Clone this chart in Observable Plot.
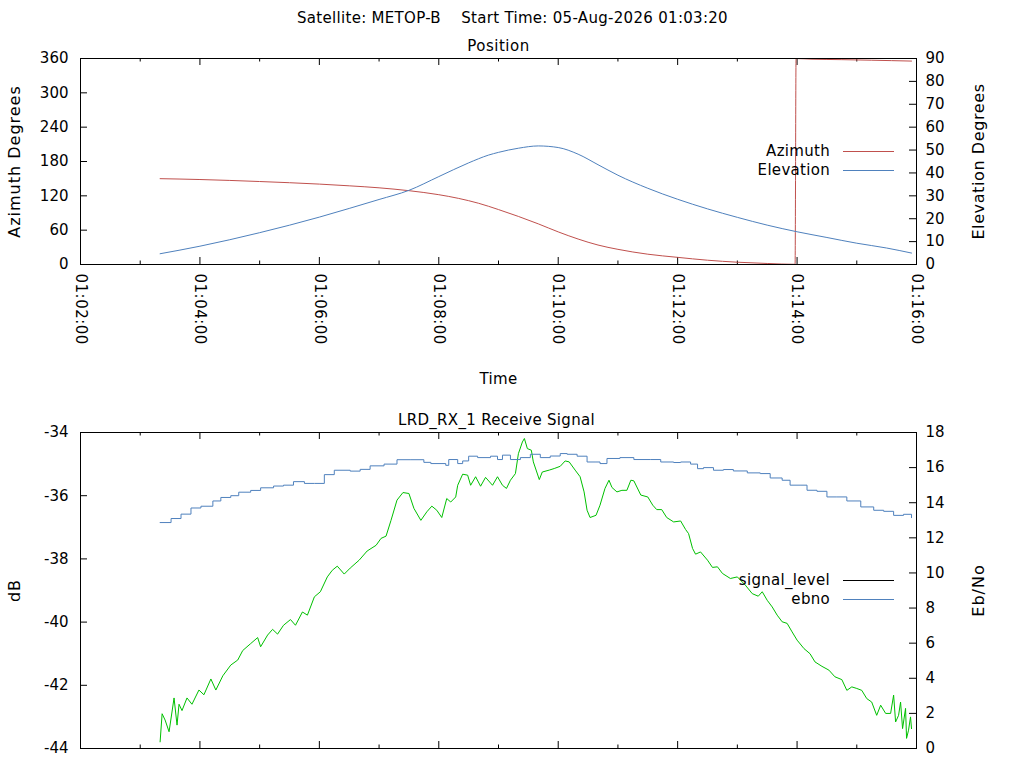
<!DOCTYPE html>
<html>
<head>
<meta charset="utf-8">
<script src="https://cdn.jsdelivr.net/npm/d3@7"></script>
<script src="https://cdn.jsdelivr.net/npm/@observablehq/plot@0.6"></script>
<style>
  html, body { margin: 0; padding: 0; background: #fff; overflow: hidden; }
  #chart { position: relative; width: 1024px; height: 768px; font-family: "DejaVu Sans", sans-serif; }
  #chart svg { position: absolute; left: 0; }
  .lg-text { position: absolute; font-size: 15px; line-height: 18px; color: #000; text-align: right; white-space: nowrap; letter-spacing: 0.3px; }
  .lg-line { position: absolute; height: 0; }
</style>
</head>
<body>
<div id="chart"></div>
<script>
// ---------- text ----------
const mainTitle = "Satellite: METOP-B    Start Time: 05-Aug-2026 01:03:20";
const topTitle = "Position";
const bottomTitle = "LRD_RX_1 Receive Signal";
const passStartClock = "01:03:20";      // data offsets are seconds after this
const xAxisStart = "01:02:00", xAxisEnd = "01:16:00";
const timeTicks = ["01:02:00","01:04:00","01:06:00","01:08:00","01:10:00","01:12:00","01:14:00","01:16:00"];
const minorTimeTicks = ["01:03:00","01:05:00","01:07:00","01:09:00","01:11:00","01:13:00","01:15:00"];

// ---------- top panel ----------
const azTicks = [0, 60, 120, 180, 240, 300, 360];
const elTicks = [0, 10, 20, 30, 40, 50, 60, 70, 80, 90];
// [seconds after pass start, degrees]
const azimuth = [[0,150],[40,148.5],[100,145],[160,140.5],[190,137.5],[220,134],[250,129],[280,122],
  [300,115.5],[320,107],[340,96],[360,84],[380,71],[400,57],[420,44.5],[440,34],[460,26.5],[490,18],
  [520,12.5],[550,7.5],[580,4],[610,1.8],[638,0.3],[639,359.9],[655,358.8],[685,358],[715,357],[755,355.5]];
const elevation = [[0,4.7],[40,8.0],[100,13.9],[160,20.7],[190,24.5],[220,28.4],[250,32.4],[280,38.4],
  [310,44.4],[330,47.8],[340,49.0],[360,50.8],[380,51.8],[400,51.1],[420,48.2],[440,43.6],[460,39.0],
  [490,33.3],[520,28.5],[550,24.3],[580,20.6],[610,17.2],[640,14.3],[670,11.8],[700,9.3],[730,7.2],[755,5.0]];

// ---------- bottom panel ----------
const dbTicks = [-44, -42, -40, -38, -36, -34];
const ebnoTicks = [0, 2, 4, 6, 8, 10, 12, 14, 16, 18];
const signalLevel = [[0,-43.79],[2,-42.9],[5,-43.1],[9,-43.47],[14,-42.4],[17,-43.26],[19,-42.6],[22,-42.8],
  [27,-42.4],[32,-42.6],[39,-42.15],[44,-42.3],[51,-41.8],[56,-42.15],[63,-41.7],[71,-41.36],[78,-41.2],
  [83,-40.9],[91,-40.68],[98,-40.49],[101,-40.78],[108,-40.41],[113,-40.23],[118,-40.38],[124,-40.1],
  [131,-39.92],[136,-40.1],[143,-39.68],[148,-39.78],[155,-39.2],[161,-39.04],[168,-38.57],[173,-38.36],
  [178,-38.23],[185,-38.48],[191,-38.29],[200,-38.04],[208,-37.75],[217,-37.57],[222,-37.35],[227,-37.28],
  [232,-36.78],[238,-36.14],[244,-35.9],[250,-35.93],[255,-36.4],[262,-36.78],[268,-36.51],[273,-36.33],
  [278,-36.46],[283,-36.69],[288,-36.09],[292,-36.2],[297,-36.04],[299,-35.67],[304,-35.32],[309,-35.35],
  [312,-35.67],[317,-35.4],[322,-35.7],[327,-35.42],[334,-35.67],[339,-35.4],[344,-35.67],[348,-35.77],
  [352,-35.51],[357,-35.3],[360,-34.67],[364,-34.3],[366,-34.19],[369,-34.51],[373,-34.56],[375,-34.93],
  [381,-35.49],[384,-35.25],[391,-35.19],[396,-35.14],[402,-35.07],[407,-34.9],[411,-34.93],[417,-35.19],
  [422,-35.4],[426,-35.88],[429,-36.46],[432,-36.69],[438,-36.62],[442,-36.3],[447,-35.77],[451,-35.51],
  [454,-35.74],[459,-35.88],[464,-35.83],[469,-35.83],[473,-35.51],[476,-35.53],[483,-35.98],[490,-36.04],
  [495,-36.3],[499,-36.44],[504,-36.44],[509,-36.69],[516,-36.83],[523,-36.8],[528,-37.07],[531,-37.2],
  [535,-37.67],[538,-37.85],[543,-37.78],[550,-38.04],[555,-38.27],[560,-38.25],[565,-38.46],[573,-38.62],
  [580,-38.57],[588,-38.83],[595,-39.1],[601,-39.18],[605,-39.04],[610,-39.31],[615,-39.52],[620,-39.78],
  [625,-39.99],[630,-40.04],[635,-40.31],[640,-40.57],[647,-40.84],[653,-41.0],[658,-41.26],[665,-41.4],
  [672,-41.52],[678,-41.73],[685,-41.82],[690,-42.16],[695,-42.05],[700,-42.1],[705,-42.16],[710,-42.42],
  [715,-42.53],[720,-42.95],[724,-42.63],[729,-42.89],[734,-42.89],[737,-42.31],[739,-43.16],[742,-42.95],
  [744,-42.53],[746,-43.37],[749,-42.73],[750,-43.68],[752,-43.42],[754,-43.0],[755,-43.37]];
const ebno = [[0,12.87],[11,13.1],[21,13.35],[31,13.7],[41,13.8],[53,14.1],[61,14.3],[71,14.4],[79,14.6],
  [91,14.7],[101,14.85],[114,14.95],[124,15.0],[134,15.2],[145,15.1],[155,15.1],[165,15.6],[175,15.85],
  [191,15.8],[201,15.9],[211,16.1],[225,16.2],[238,16.45],[252,16.45],[265,16.3],[272,16.23],[287,16.13],
  [290,16.46],[299,16.23],[304,16.38],[310,16.65],[319,16.57],[332,16.65],[339,16.46],[344,16.71],
  [352,16.46],[362,16.57],[372,16.76],[382,16.57],[392,16.66],[402,16.8],[409,16.76],[419,16.65],
  [429,16.32],[437,16.32],[442,16.23],[449,16.52],[462,16.57],[476,16.46],[493,16.46],[503,16.32],
  [516,16.29],[523,16.32],[533,16.2],[540,15.94],[546,16.0],[556,15.85],[566,15.89],[576,15.81],
  [590,15.7],[603,15.66],[613,15.41],[625,15.28],[633,15.0],[643,15.0],[650,14.71],[660,14.65],
  [670,14.33],[680,14.33],[690,14.1],[704,13.76],[717,13.57],[727,13.51],[737,13.28],[747,13.34],[755,13.15]];

const colors = { azimuth: "#c0504d", elevation: "#4f81bd", signal: "#00c000", signalKey: "#000000", ebno: "#4f81bd" };

// ---------- build ----------
const parseT = d3.utcParse("%H:%M:%S");
const t0 = parseT(passStartClock);
const at = s => new Date(+t0 + s * 1000);
const xDomain = [parseT(xAxisStart), parseT(xAxisEnd)];
const majorX = timeTicks.map(parseT);
const minorX = minorTimeTicks.map(parseT);
const rows = arr => arr.map(([s, v]) => ({t: at(s), v}));

const W = 1024, ML = 80, MR = 108, FW = W - ML - MR;
const TICK = 7, MINOR = 3.5;
const style = {fontFamily: "DejaVu Sans, sans-serif", fontSize: "15px", background: "white", color: "#000", overflow: "visible"};
const plain = d => String(d);
const label = (txt, opts) => Plot.text([txt], {text: d => d, textAnchor: "middle", lineAnchor: "middle", ...opts});

function frameTicks(fh, yLeft, yRight) {
  return [
    Plot.tickX(majorX, {x: d => d, insetTop: fh - TICK, stroke: "#000"}),
    Plot.tickX(majorX, {x: d => d, insetBottom: fh - TICK, stroke: "#000"}),
    Plot.tickX(minorX, {x: d => d, insetTop: fh - MINOR, stroke: "#000"}),
    Plot.tickX(minorX, {x: d => d, insetBottom: fh - MINOR, stroke: "#000"}),
    Plot.tickY(yLeft, {y: d => d, insetRight: FW - TICK, stroke: "#000"}),
    Plot.tickY(yRight, {y: d => d, insetLeft: FW - TICK, stroke: "#000"})
  ];
}

// top panel
const azDomain = [0, 360], elDomain = [0, 90];
const elToAz = v => azDomain[0] + (v - elDomain[0]) * (azDomain[1] - azDomain[0]) / (elDomain[1] - elDomain[0]);
const azToEl = v => String(Math.round(elDomain[0] + (v - azDomain[0]) * (elDomain[1] - elDomain[0]) / (azDomain[1] - azDomain[0])));
const topH = 400, topMT = 58, topMB = 136, topFH = topH - topMT - topMB;

const topPlot = Plot.plot({
  width: W, height: topH, marginTop: topMT, marginBottom: topMB, marginLeft: ML, marginRight: MR,
  style,
  x: {type: "utc", domain: xDomain},
  y: {domain: azDomain},
  marks: [
    Plot.axisX(majorX, {anchor: "bottom", tickSize: 0, tickPadding: 9, tickRotate: 90,
      tickFormat: d3.utcFormat("%H:%M:%S"), label: null}),
    Plot.axisY(azTicks, {anchor: "left", tickSize: 0, tickPadding: 12, tickFormat: plain, label: null}),
    Plot.axisY(elTicks.map(elToAz), {anchor: "right", tickSize: 0, tickPadding: 9, tickFormat: azToEl, label: null}),
    ...frameTicks(topFH, azTicks, elTicks.map(elToAz)),
    Plot.line(rows(azimuth), {x: "t", y: "v", stroke: colors.azimuth, strokeWidth: 1, curve: "monotone-x"}),
    Plot.line(rows(elevation), {x: "t", y: d => elToAz(d.v), stroke: colors.elevation, strokeWidth: 1, curve: "monotone-x"}),
    Plot.frame({stroke: "#000"}),
    label(mainTitle, {frameAnchor: "top", dx: 14, dy: -40, fontSize: 15}),
    label(topTitle, {frameAnchor: "top", dy: -12, fontSize: 15}),
    label("Azimuth Degrees", {frameAnchor: "left", rotate: -90, dx: -66, fontSize: 16}),
    label("Elevation Degrees", {frameAnchor: "right", rotate: -90, dx: 62, fontSize: 16}),
    label("Time", {frameAnchor: "bottom", dy: 115, fontSize: 15})
  ]
});
topPlot.style.top = "0px";

// bottom panel (its time labels fall below the page edge, as in the reference)
const dbDomain = [-44, -34], ebDomain = [0, 18];
const ebToDb = v => dbDomain[0] + (v - ebDomain[0]) * (dbDomain[1] - dbDomain[0]) / (ebDomain[1] - ebDomain[0]);
const dbToEb = v => String(Math.round(ebDomain[0] + (v - dbDomain[0]) * (ebDomain[1] - ebDomain[0]) / (dbDomain[1] - dbDomain[0])));
const botTop = 400, botH = 368, botMT = 32, botMB = 20, botFH = botH - botMT - botMB;

const botPlot = Plot.plot({
  width: W, height: botH, marginTop: botMT, marginBottom: botMB, marginLeft: ML, marginRight: MR,
  style,
  x: {type: "utc", domain: xDomain, axis: null},
  y: {domain: dbDomain},
  marks: [
    Plot.axisY(dbTicks, {anchor: "left", tickSize: 0, tickPadding: 12, tickFormat: plain, label: null}),
    Plot.axisY(ebnoTicks.map(ebToDb), {anchor: "right", tickSize: 0, tickPadding: 9, tickFormat: dbToEb, label: null}),
    ...frameTicks(botFH, dbTicks, ebnoTicks.map(ebToDb)),
    Plot.line(rows(signalLevel), {x: "t", y: "v", stroke: colors.signal, strokeWidth: 1}),
    Plot.line(rows(ebno), {x: "t", y: d => ebToDb(d.v), stroke: colors.ebno, strokeWidth: 1, curve: "step-after"}),
    Plot.frame({stroke: "#000"}),
    label(bottomTitle, {frameAnchor: "top", dx: -2, dy: -12, fontSize: 15}),
    label("dB", {frameAnchor: "left", rotate: -90, dx: -66, fontSize: 16}),
    label("Eb/No", {frameAnchor: "right", rotate: -90, dx: 62, fontSize: 16})
  ]
});
botPlot.style.top = botTop + "px";

const chart = document.getElementById("chart");
chart.appendChild(topPlot);
chart.appendChild(botPlot);

// letter spacing tweaks to match the reference's wider text
const spaced = {"Azimuth Degrees": "1.0px", "Elevation Degrees": "0.6px", "dB": "1px", "Eb/No": "1px",
  [mainTitle]: "0.3px", [topTitle]: "0.5px", [bottomTitle]: "0.3px", "Time": "0.3px"};
d3.selectAll("#chart svg text").each(function () {
  const s = spaced[this.textContent];
  if (s) this.style.letterSpacing = s;
});
d3.select(topPlot).selectAll("[aria-label='x-axis tick label'] text").style("letter-spacing", "0.5px");

// legends (key boxes inside the frames, right side)
function legend(entries, yFirst) {
  entries.forEach(([txt, color], i) => {
    const y = yFirst + i * 19;
    const t = document.createElement("div");
    t.className = "lg-text";
    t.textContent = txt;
    t.style.right = (W - 830) + "px";
    t.style.top = (y - 9) + "px";
    chart.appendChild(t);
    const l = document.createElement("div");
    l.className = "lg-line";
    l.style.left = "843px";
    l.style.width = "51px";
    l.style.top = y + "px";
    l.style.borderTop = "1px solid " + color;
    chart.appendChild(l);
  });
}
legend([["Azimuth", colors.azimuth], ["Elevation", colors.elevation]], 151);
legend([["signal_level", colors.signalKey], ["ebno", colors.ebno]], 580);
</script>
</body>
</html>
